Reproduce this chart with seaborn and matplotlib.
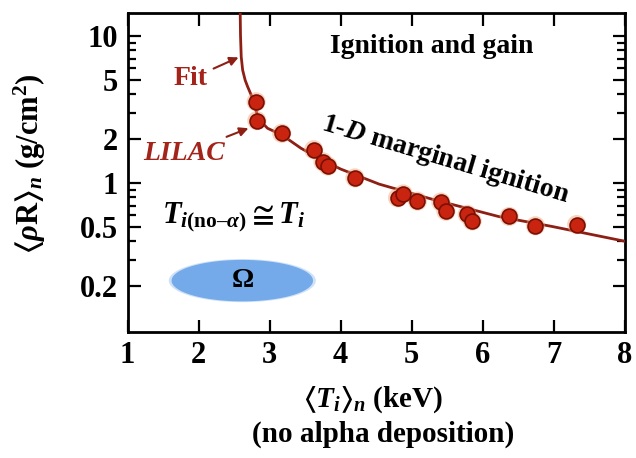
import numpy as np
import matplotlib
matplotlib.use("Agg")
import matplotlib.pyplot as plt
import seaborn as sns

# LILAC simulation points
shot_T = [2.81, 2.82, 3.17, 3.62, 3.75, 3.82, 4.20, 4.80, 4.88, 5.08, 5.41, 5.48, 5.78, 5.85, 6.37, 6.74, 7.32]
shot_rhoR = [3.56, 2.65, 2.17, 1.68, 1.39, 1.30, 1.08, 0.79, 0.84, 0.75, 0.74, 0.64, 0.61, 0.55, 0.59, 0.51, 0.52]

# marginal ignition fit curve
fit_T = [2.585, 2.59, 2.60, 2.62, 2.655, 2.69, 2.74, 2.79, 2.85, 2.97, 3.17, 3.44, 3.70, 4.00, 4.54, 5.30, 6.22, 6.97, 8.00]
fit_rhoR = [15.0, 10.0, 7.2, 5.85, 5.0, 4.51, 3.96, 3.30, 2.70, 2.35, 2.12, 1.72, 1.46, 1.24, 0.98, 0.77, 0.59, 0.505, 0.40]

# Omega region
omega_T, omega_halfwidth = 2.615, 0.995
omega_rhoR, omega_half_decades = 0.216, 0.141

x_ticks = [1, 2, 3, 4, 5, 6, 7, 8]
y_ticks = [0.2, 0.5, 1, 2, 5, 10]
y_ticklabels = ["0.2", "0.5", "1", "2", "5", "10"]

sns.set_style("ticks")
plt.rcParams["font.family"] = ["Liberation Serif", "DejaVu Serif"]
plt.rcParams["font.weight"] = "bold"
plt.rcParams["text.color"] = "black"
plt.rcParams["mathtext.fontset"] = "custom"
plt.rcParams["mathtext.rm"] = "Liberation Serif:bold"
plt.rcParams["mathtext.it"] = "Liberation Serif:italic:bold"
plt.rcParams["mathtext.bf"] = "Liberation Serif:bold"
plt.rcParams["mathtext.fallback"] = "stix"

red_line = "#8e1f14"
red_text = "#a3241a"

fig = plt.figure(figsize=(6.36, 4.58), dpi=100)
ax = fig.add_axes([0.2005, 0.2757, 0.7822, 0.6959])

# blue Omega blob
th = np.linspace(0, 2 * np.pi, 200)
for grow, alpha in [(1.04, 0.35), (1.0, 1.0)]:
    ex = omega_T + grow * omega_halfwidth * np.cos(th)
    ey = omega_rhoR * 10 ** (grow * omega_half_decades * np.sin(th))
    ax.fill(ex, ey, color="#74aaea", alpha=alpha, lw=0, zorder=1)
ax.text(omega_T, omega_rhoR, r"$\mathbf{\Omega}$", ha="center", va="center",
        fontsize=20, color="black", zorder=2)

sns.lineplot(x=fit_T, y=fit_rhoR, sort=False, estimator=None, ax=ax,
             color=red_line, lw=2, zorder=3)
sns.scatterplot(x=shot_T, y=shot_rhoR, ax=ax, s=190, color="#f0a070",
                alpha=0.45, edgecolor="none", zorder=4)
sns.scatterplot(x=shot_T, y=shot_rhoR, ax=ax, s=115, color="#c8240f",
                edgecolor="#7a0f05", linewidth=1.2, zorder=5)

ax.set_yscale("log")
ax.set_xlim(1, 8)
ax.set_ylim(0.097, 14.3)
ax.set_xticks(x_ticks)
ax.set_xticklabels([str(t) for t in x_ticks])
ax.set_yticks(y_ticks)
ax.set_yticklabels(y_ticklabels)
ax.yaxis.set_minor_locator(matplotlib.ticker.LogLocator(base=10, subs=np.arange(2, 10)))
ax.yaxis.set_minor_formatter(matplotlib.ticker.NullFormatter())
ax.tick_params(which="both", direction="in", top=True, right=True, width=1.6, colors="black")
ax.tick_params(which="major", length=9, labelsize=22, pad=7)
ax.tick_params(which="minor", length=6)
for lab in ax.get_xticklabels() + ax.get_yticklabels():
    lab.set_fontweight("bold")
for sp in ax.spines.values():
    sp.set_linewidth(2)
    sp.set_color("black")
ax.set_xlabel("")
ax.set_ylabel("")

# annotations
ax.text(5.28, 8.4, "Ignition and gain", ha="center", va="center", fontsize=20, fontweight="bold")
ax.text(5.48, 1.44, r"$\mathit{1}$-$\mathit{D}$ marginal ignition", ha="center", va="center",
        fontsize=20, fontweight="bold", rotation=-16.5, rotation_mode="anchor")
ax.text(2.49, 0.58, r"$T_{i(\mathrm{no–}\alpha)}\cong T_i$", ha="center", va="center", fontsize=22)
ax.annotate("Fit", xy=(2.58, 7.2), xytext=(1.89, 5.1), ha="center", va="center",
            fontsize=20, color=red_text, fontweight="bold",
            arrowprops=dict(arrowstyle="-|>", color=red_line, lw=1.5, mutation_scale=13,
                            shrinkA=2, shrinkB=1))
ax.annotate("LILAC", xy=(2.72, 2.37), xytext=(1.79, 1.58), ha="center", va="center",
            fontsize=20, color=red_text, fontweight="bold", fontstyle="italic",
            arrowprops=dict(arrowstyle="-|>", color=red_line, lw=1.5, mutation_scale=13,
                            shrinkA=2, shrinkB=1))

fig.text(30 / 636, 1 - 164 / 458, r"$\langle\rho\mathrm{R}\rangle_n$ (g/cm$^2$)", rotation=90,
         ha="center", va="center", fontsize=22, fontweight="bold")
fig.text(373 / 636, 1 - 400 / 458, r"$\langle T_i\rangle_n$ (keV)", ha="center", va="center",
         fontsize=21, fontweight="bold")
fig.text(383 / 636, 1 - 434 / 458, "(no alpha deposition)", ha="center", va="center",
         fontsize=21, fontweight="bold")

fig.savefig("out.png", dpi=100)
